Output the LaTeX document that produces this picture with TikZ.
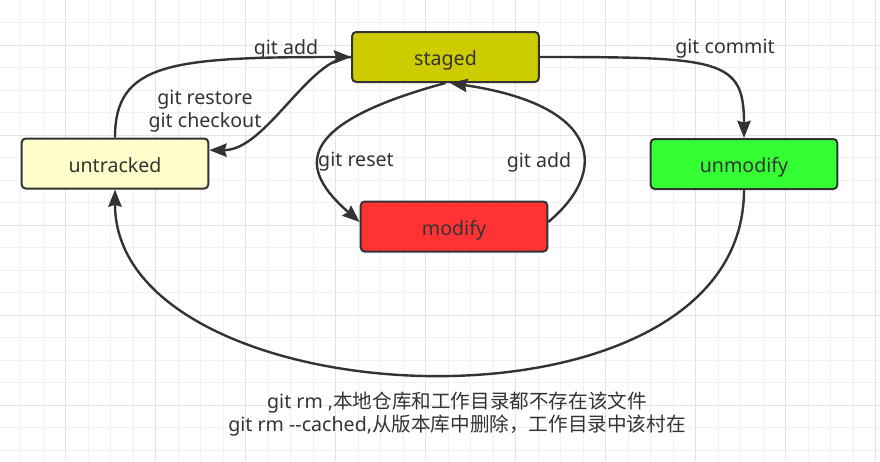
\documentclass[tikz,border=0pt]{standalone}
\usepackage{fontspec}
\setmainfont{Noto Sans}
\newfontfamily\cjk{Noto Sans CJK SC}
\usetikzlibrary{arrows.meta,positioning}

\definecolor{inkgray}{HTML}{333333}
\definecolor{gridminor}{HTML}{F0F0F0}
\definecolor{gridmajor}{HTML}{E3E3E3}
\definecolor{stagedfill}{HTML}{CCCC00}
\definecolor{untrackedfill}{HTML}{FFFFCC}
\definecolor{unmodifyfill}{HTML}{33FF33}
\definecolor{modifyfill}{HTML}{FF3333}

\tikzset{
  gridline/.style={gridminor,line width=0.75pt},
  filestate/.style={draw=inkgray,line width=1.5pt,rounded corners=3pt,
    minimum width=140pt,minimum height=37.5pt,text=inkgray,
    text height=12.8pt,text depth=0pt,
    font=\fontsize{14.7}{17}\selectfont},
  trans/.style={draw=inkgray,line width=1.8pt,
    -{Stealth[length=13pt,width=10pt,inset=1.5pt]}},
  translabel/.style={text=inkgray,align=center,inner sep=0pt,
    font=\fontsize{14.7}{17.25}\selectfont},
}

\begin{document}
\begin{tikzpicture}[x=0.75pt,y=-0.75pt]
    \useasboundingbox (0,0) rectangle (880,461);
    % background grid
    \fill[white] (0,0) rectangle (880,461);
    \foreach \k in {1,...,39}
      \draw[gridline] ({-2+22.5*\k},0) -- ({-2+22.5*\k},461);
    \foreach \k in {1,...,20}
      \draw[gridline] (0,{22.5*\k}) -- (880,{22.5*\k});
    \foreach \k in {3,7,...,39}
      \draw[gridline,gridmajor] ({-2+22.5*\k},0) -- ({-2+22.5*\k},461);
    \foreach \k in {2,6,...,18}
      \draw[gridline,gridmajor] (0,{22.5*\k}) -- (880,{22.5*\k});

    % file states
    \node[filestate,fill=stagedfill] (staged) at (445.5,57) {staged};
    \node[filestate,fill=untrackedfill] (untracked) at (115,163.5) {untracked};
    \node[filestate,fill=unmodifyfill] (unmodify) at (744,164) {unmodify};
    \node[filestate,fill=modifyfill] (modify) at (454,226.5) {modify};

    % transitions
    \draw[trans] (untracked.north) .. controls +(0,-74) and +(-182,0) .. (staged.west);
    \draw[trans] (staged.west) .. controls +(-42,0) and +(57,0) .. ([yshift=10pt]untracked.east);
    \draw[trans] (staged.east) .. controls +(181,0) and +(0,-79) .. (unmodify.north);
    \draw[trans] (staged.south) .. controls +(-155,42) and +(-60,-52) .. ([yshift=3.4pt]modify.west);
    \draw[trans] ([yshift=3.4pt]modify.east) .. controls +(62,-52) and +(150,22) .. ([xshift=3.4pt]staged.south);
    \draw[trans] (unmodify.south) .. controls +(0,261) and +(0,231) .. (untracked.south);

    % labels
    \node[translabel] (addtop) at (286,49) {git add};
    \node[translabel] (restore) at (205,111.5) {git restore\\git checkout};
    \node[translabel] (commit) at (725,49) {git commit};
    \node[translabel] (reset) at (356,162) {git reset};
    \node[translabel] (addback) at (539,162) {git add};
    \node[translabel] (rmnote) at (457,414) {git rm ,{\cjk 本地仓库和工作目录都不存在该文件}\\
      git rm -{}-cached,{\cjk 从版本库中删除，工作目录中该村在}};
\end{tikzpicture}
\end{document}
